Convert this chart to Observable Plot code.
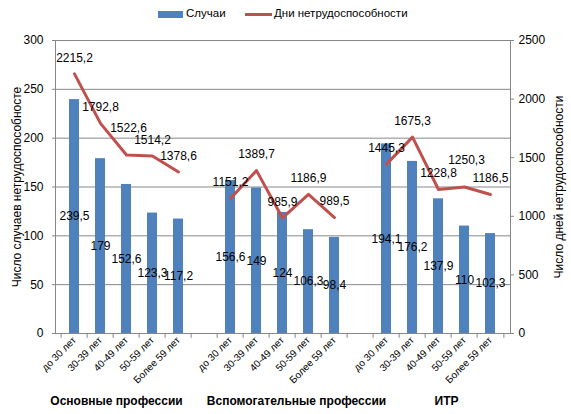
<!DOCTYPE html>
<html>
<head>
<meta charset="utf-8">
<script src="https://cdn.jsdelivr.net/npm/d3@7"></script>
<script src="https://cdn.jsdelivr.net/npm/@observablehq/plot@0.6"></script>
<style>
  body { margin: 0; background: #fff; font-family: "Liberation Sans", Arial, sans-serif; }
  #legend { position: relative; height: 28px; width: 571px; font-size: 11.5px; color: #000; }
  #legend .sw { position: absolute; }
  #legend span { position: absolute; top: 7px; }
</style>
</head>
<body>
<div id="legend">
  <div class="sw" style="left:158px; top:11px; width:25px; height:7px; background:#4F81BD"></div>
  <span style="left:186px">Случаи</span>
  <div class="sw" style="left:245px; top:13px; width:27px; height:3px; background:#C0504D"></div>
  <span style="left:274px">Дни нетрудоспособности</span>
</div>
<div id="chart"></div>
<script>
const groups = ["Основные профессии", "Вспомогательные профессии", "ИТР"];
const ages = ["до 30 лет", "30-39 лет", "40-49 лет", "50-59 лет", "Более 59 лет"];
const cases = [
  [239.5, 179, 152.6, 123.3, 117.2],
  [156.6, 149, 124, 106.3, 98.4],
  [194.1, 176.2, 137.9, 110, 102.3]
];
const days = [
  [2215.2, 1792.8, 1522.6, 1514.2, 1378.6],
  [1151.2, 1389.7, 985.9, 1186.9, 989.5],
  [1445.3, 1675.3, 1228.8, 1250.3, 1186.5]
];
const leftTicks = [0, 50, 100, 150, 200, 250, 300];
const rightTicks = [0, 500, 1000, 1500, 2000, 2500];

const k = 300 / 2500; // right axis -> left axis units
const fmt = v => String(v).replace(".", ",");

const rows = [];
const keys = [];
groups.forEach((g, gi) => {
  if (gi > 0) keys.push("gap" + gi);
  ages.forEach((a, ai) => {
    const key = gi + "|" + a;
    keys.push(key);
    const next = days[gi][ai + 1];
    // Excel-like collision avoidance: lift a label when the next point is
    // at almost the same height (slightly lower) so the two labels would collide.
    const d = days[gi][ai];
    const bump = next !== undefined && d >= next && (d - next) < 80;
    rows.push({key, group: g, age: a, cases: cases[gi][ai], days: d, bump});
  });
});
const keyLabel = key => key.startsWith("gap") ? "" : key.split("|")[1];

const W = 571, H = 386;
const mL = 55, mR = 61, mT = 12, mB = 81;
const step = (W - mL - mR) / keys.length;
const grid = "#878787";
const font = "Liberation Sans, Arial, sans-serif";

const groupDx = [-10, 14, 8];

const chart = Plot.plot({
  width: W, height: H,
  marginLeft: mL, marginRight: mR, marginTop: mT, marginBottom: mB,
  style: {fontFamily: font, fontSize: "12px", color: "#000", background: "#fff"},
  x: {domain: keys, paddingInner: 0.6, paddingOuter: 0.3, axis: null},
  y: {domain: [0, 300], axis: null},
  marks: [
    Plot.gridY(leftTicks.slice(1), {stroke: grid, strokeOpacity: 1}),
    Plot.barY(rows, {x: "key", y: "cases", fill: "#4F81BD"}),
    Plot.frame({stroke: grid}),
    Plot.ruleX(keys, {x: d => d, y1: 0, y2: -5, dx: -step / 2, stroke: grid}),
    Plot.ruleX(keys.slice(-1), {x: d => d, y1: 0, y2: -5, dx: step / 2, stroke: grid}),
    Plot.line(rows, {x: "key", y: d => d.days * k, z: "group", stroke: "#C0504D", strokeWidth: 3}),
    Plot.text(rows, {x: "key", y: d => d.cases / 2, text: d => fmt(d.cases), fontSize: 12, fill: "#000"}),
    Plot.text(rows.filter(d => !d.bump), {x: "key", y: d => d.days * k, text: d => fmt(d.days), dy: -16, fontSize: 12, fill: "#000"}),
    Plot.text(rows.filter(d => d.bump), {x: "key", y: d => d.days * k, text: d => fmt(d.days), dy: -27, dx: 2, fontSize: 12, fill: "#000"}),
    Plot.axisY(leftTicks, {anchor: "left", tickSize: 3, tickPadding: 9, stroke: grid, fontSize: 12,
      label: "Число случаев нетрудоспособносте", labelAnchor: "center", labelArrow: "none", labelOffset: 43}),
    Plot.axisY(rightTicks.map(v => v * k), {anchor: "right", tickSize: 3, tickPadding: 5, stroke: grid, fontSize: 12,
      tickFormat: v => String(Math.round(v / k)),
      label: "Число дней нетрудоспособности", labelAnchor: "center", labelArrow: "none", labelOffset: 52}),
    Plot.axisX(keys, {tickSize: 0, tickPadding: 5, tickRotate: -45, tickFormat: keyLabel, fontSize: 10, label: null}),
    ...groups.map((g, gi) => Plot.text([g], {
      x: [gi + "|" + ages[2]], text: d => d, frameAnchor: "bottom", dy: 71, dx: groupDx[gi],
      fontWeight: "bold", fontSize: 12, fill: "#000"
    }))
  ]
});
document.getElementById("chart").appendChild(chart);
</script>
</body>
</html>
